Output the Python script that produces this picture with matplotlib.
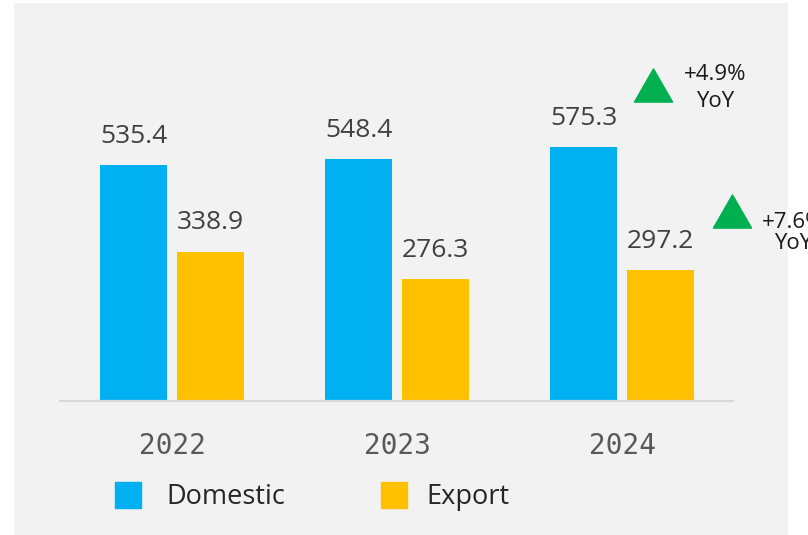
import matplotlib
matplotlib.use('Agg')
import matplotlib.pyplot as plt
from matplotlib.patches import Rectangle
from matplotlib.lines import Line2D
from matplotlib.path import Path

# data
years = ['2022', '2023', '2024']
domestic = [535.4, 548.4, 575.3]
export = [338.9, 276.3, 297.2]

blue = '#00b0f0'
gold = '#ffc000'
green = '#00b050'

plt.rcParams['font.family'] = ['Open Sans', 'DejaVu Sans']

W, H = 808, 535
fig = plt.figure(figsize=(W / 100, H / 100), dpi=100)
fig.patch.set_facecolor('white')

# light gray panel behind everything
bg = Rectangle((14 / W, 0), (788 - 14) / W, (H - 3) / H, transform=fig.transFigure,
               facecolor='#f2f2f2', edgecolor='none', zorder=-10)
fig.patches.append(bg)

ax = fig.add_axes([60 / W, 1 - 401 / H, 673 / W, 398 / H])
ax.patch.set_alpha(0)
ax.set_xlim(-0.498, 2.493)
ax.set_ylim(0, 398 / 0.4408)

x = range(len(years))
bw = 0.298
off = 0.171
xd = [i - off for i in x]
xe = [i + off for i in x]
ax.bar(xd, domestic, width=bw, color=blue, zorder=2)
ax.bar(xe, export, width=bw, color=gold, zorder=2)

for xs, vals in ((xd, domestic), (xe, export)):
    for xi, v in zip(xs, vals):
        ax.annotate(f'{v:.1f}', xy=(xi, v), xytext=(0, 16), textcoords='offset points',
                    ha='center', va='baseline', fontsize=19, color='#404040')

# year-on-year change for the last year
yoy_dom = (domestic[-1] / domestic[-2] - 1) * 100
yoy_exp = (export[-1] / export[-2] - 1) * 100

tri = Path([(-1, -0.87), (1, -0.87), (0, 0.87), (-1, -0.87)],
           [Path.MOVETO, Path.LINETO, Path.LINETO, Path.CLOSEPOLY])
ax.plot([2.138], [717], marker=tri, markersize=27.5, color=green, linestyle='', clip_on=False)
ax.plot([2.489], [430], marker=tri, markersize=27.5, color=green, linestyle='', clip_on=False)

ax.text(2.413, 710, f'+{yoy_dom:.1f}%\nYoY', ha='center', va='center', fontsize=16,
        color='#1a1a1a', linespacing=1.4, clip_on=False)
# runs off the right edge, as in the source slide
ax.text(2.76, 381, f'+{yoy_exp:.1f}%\nYoY', ha='center', va='center', fontsize=16,
        color='#1a1a1a', linespacing=1.05, clip_on=False)

for s in ['top', 'right', 'left']:
    ax.spines[s].set_visible(False)
ax.spines['bottom'].set_color('#d9d9d9')
ax.spines['bottom'].set_linewidth(1.6)
ax.set_yticks([])
ax.set_xticks(list(x))
ax.set_xticklabels(years, fontsize=20, color='#595959', family='DejaVu Sans Mono')
ax.tick_params(axis='x', length=0, pad=22)

h_dom = Line2D([], [], marker='s', linestyle='', markersize=19.4, color=blue)
h_exp = Line2D([], [], marker='s', linestyle='', markersize=19.4, color=gold)
leg_kw = dict(loc='center left', frameon=False, fontsize=19.5, labelcolor='#262626',
              handlelength=1.0, borderpad=0, borderaxespad=0)
fig.legend([h_dom], ['Domestic'], bbox_to_anchor=(114 / W, 1 - 497 / H),
           handletextpad=0.95, **leg_kw)
fig.legend([h_exp], ['Export'], bbox_to_anchor=(380 / W, 1 - 497 / H),
           handletextpad=0.7, **leg_kw)

fig.savefig('out.png', dpi=100)
